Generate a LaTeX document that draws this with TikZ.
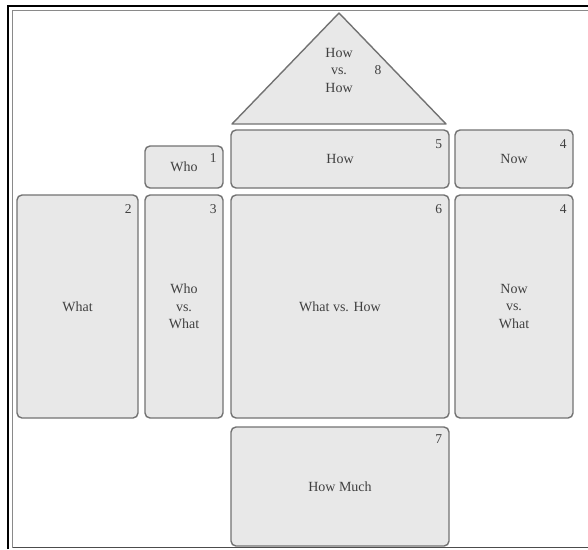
\documentclass[tikz,border=0pt]{standalone}
\usepackage{fontspec}
\setmainfont{Liberation Serif}
\definecolor{boxline}{HTML}{727272}
\definecolor{boxfill}{HTML}{E8E8E8}
\definecolor{txt}{HTML}{404040}
\definecolor{frame}{HTML}{8A8A8A}
\begin{document}
\begin{tikzpicture}[x=1pt,y=-1pt,
  box/.style={draw=boxline, fill=boxfill, line width=1.4pt, rounded corners=5pt,
    inner sep=0pt, text=txt, font=\fontsize{14}{17.5}\selectfont, align=center},
  lbl/.style={text=txt, font=\fontsize{14}{17.5}\selectfont, align=center, inner sep=0pt},
  num/.style={text=txt, font=\fontsize{13.5}{15}\selectfont, inner sep=0pt}]
\useasboundingbox (0,0) rectangle (588,549);
% frame
\draw[line width=2.5pt, black] (8,549) -- (8,6) -- (588,6);
\draw[line width=1pt, frame] (588,10.5) -- (12.5,10.5) -- (12.5,547.5);
\draw[line width=1.6pt, black!70] (12.5,547.5) -- (588,547.5);
% roof
\coordinate (apex) at (339,13);
\coordinate (bl) at (232,124);
\coordinate (br) at (446,124);
\draw[draw=boxline, fill=boxfill, line width=1.4pt, line join=round] (bl) -- (apex) -- (br) -- cycle;
\node[lbl] (hvh) at (339,70) {How\\vs.\\How};
\node[num] (n8) at (378,70) {8};
% boxes
\node[box, minimum width=78pt, minimum height=42pt] (who) at (184,167) {Who};
\node[box, minimum width=218pt, minimum height=58pt] (how) at (340,159) {How};
\node[box, minimum width=118pt, minimum height=58pt] (now) at (514,159) {Now};
\node[box, minimum width=121pt, minimum height=223pt] (what) at (77.5,306.5) {What};
\node[box, minimum width=78pt, minimum height=223pt] (wvw) at (184,306.5) {Who\\vs.\\What};
\node[box, minimum width=218pt, minimum height=223pt] (wvh) at (340,306.5) {What vs. How};
\node[box, minimum width=118pt, minimum height=223pt] (nvw) at (514,306.5) {Now\\vs.\\What};
\node[box, minimum width=218pt, minimum height=119pt] (much) at (340,486.5) {How Much};
% numbers
\node[num] at ([xshift=-10.5pt,yshift=-13pt]who.north east) {1};
\node[num] at ([xshift=-10.5pt,yshift=-15pt]what.north east) {2};
\node[num] at ([xshift=-10.5pt,yshift=-15pt]wvw.north east) {3};
\node[num] at ([xshift=-10.5pt,yshift=-15pt]now.north east) {4};
\node[num] at ([xshift=-10.5pt,yshift=-15pt]nvw.north east) {4};
\node[num] at ([xshift=-11pt,yshift=-15pt]how.north east) {5};
\node[num] at ([xshift=-11pt,yshift=-15pt]wvh.north east) {6};
\node[num] at ([xshift=-11pt,yshift=-13pt]much.north east) {7};
\end{tikzpicture}
\end{document}
